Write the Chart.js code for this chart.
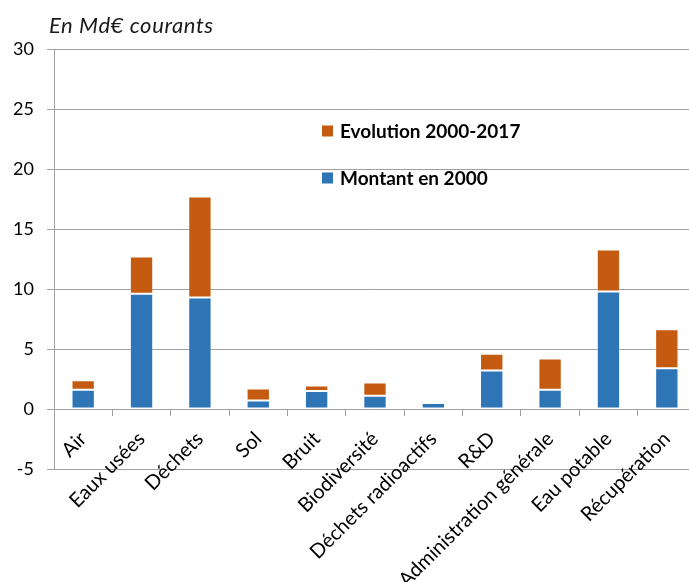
<!DOCTYPE html>
<html>
<head>
<meta charset="utf-8">
<script src="https://cdn.jsdelivr.net/npm/chart.js@4"></script>
<style>
  html, body { margin: 0; padding: 0; overflow: hidden; background: #ffffff; }
  #wrap { position: absolute; left: 0; top: 0; width: 700px; height: 582px; }
</style>
</head>
<body>
<div id="wrap"><canvas id="c" width="700" height="582"></canvas></div>
<script>
// Dépenses par domaine, en milliards d'euros courants
const categories = ['Air', 'Eaux usées', 'Déchets', 'Sol', 'Bruit', 'Biodiversité',
  'Déchets radioactifs', 'R&D', 'Administration générale', 'Eau potable', 'Récupération'];
const montant2000 = [1.6, 9.6, 9.3, 0.7, 1.5, 1.1, 0.5, 3.2, 1.6, 9.8, 3.4];
const evolution2000_2017 = [0.8, 3.1, 8.4, 1.0, 0.45, 1.1, 0.15, 1.4, 2.6, 3.5, 3.25];
const yTicks = [-5, 0, 5, 10, 15, 20, 25, 30];
const seriesNames = ['Montant en 2000', 'Evolution 2000-2017'];
const unitLabel = 'En Md€ courants';

const BLUE = '#2E75B6';
const ORANGE = '#C55A11';
const GRID = '#A0A0A0';
const FONT = 'Lato, "Noto Sans", sans-serif';

// Unit caption above the plot
const unitCaption = {
  id: 'unitCaption',
  afterDraw(chart, args, opts) {
    const ctx = chart.ctx;
    ctx.save();
    ctx.font = opts.font;
    if ('letterSpacing' in ctx) ctx.letterSpacing = opts.spacing;
    ctx.fillStyle = opts.color;
    ctx.textAlign = 'left';
    ctx.textBaseline = 'alphabetic';
    ctx.fillText(opts.text, opts.x, opts.y);
    ctx.restore();
  }
};

// Legend drawn inside the plot area, top series first
const innerLegend = {
  id: 'innerLegend',
  afterDatasetsDraw(chart, args, opts) {
    const ctx = chart.ctx;
    const items = chart.data.datasets.slice().reverse();
    ctx.save();
    ctx.font = opts.font;
    ctx.textAlign = 'left';
    ctx.textBaseline = 'middle';
    items.forEach((ds, i) => {
      const cy = opts.y + i * opts.rowGap;
      ctx.fillStyle = ds.backgroundColor;
      ctx.fillRect(opts.x, cy - opts.box / 2, opts.box, opts.box);
      ctx.fillStyle = '#000000';
      ctx.fillText(ds.label, opts.x + opts.box + opts.gap, cy + 1);
    });
    ctx.restore();
  }
};

new Chart(document.getElementById('c'), {
  type: 'bar',
  data: {
    labels: categories,
    datasets: [
      {
        label: seriesNames[0],
        data: montant2000,
        backgroundColor: BLUE,
        borderColor: 'rgba(255,255,255,0.3)',
        borderWidth: 1,
        borderSkipped: false,
        categoryPercentage: 1,
        barPercentage: 0.4
      },
      {
        label: seriesNames[1],
        data: evolution2000_2017,
        backgroundColor: ORANGE,
        borderColor: 'rgba(255,255,255,0.3)',
        borderWidth: 1,
        borderSkipped: false,
        categoryPercentage: 1,
        barPercentage: 0.4
      }
    ]
  },
  options: {
    responsive: false,
    animation: false,
    layout: { padding: { top: 49, right: 4, left: 0, bottom: 113 } },
    plugins: {
      legend: { display: false },
      tooltip: { enabled: false },
      unitCaption: { text: unitLabel, x: 49, y: 33, font: 'italic 22px ' + FONT, spacing: '0.6px', color: '#1a1a1a' },
      innerLegend: { x: 322, y: 131, rowGap: 47, box: 11, gap: 7, font: 'bold 19px ' + FONT }
    },
    scales: {
      x: {
        stacked: true,
        position: { y: 0 },
        offset: true,
        grid: { display: true, drawOnChartArea: false, drawTicks: true, tickLength: 6, color: GRID },
        border: { display: true, color: GRID, width: 1 },
        ticks: {
          autoSkip: false,
          maxRotation: 45,
          minRotation: 45,
          padding: 12,
          color: '#000000',
          font: { family: FONT, size: 20 }
        },
        afterFit(scale) { scale.height = 0; }
      },
      y: {
        stacked: true,
        min: -5,
        max: 30,
        afterBuildTicks(scale) { scale.ticks = yTicks.map(v => ({ value: v })); },
        grid: { color: GRID, lineWidth: 1, drawTicks: true, tickLength: 7 },
        border: { display: true, color: GRID, width: 1 },
        ticks: {
          padding: 13,
          color: '#000000',
          font: { family: FONT, size: 18 }
        },
        afterFit(scale) { scale.width = 54; }
      }
    }
  },
  plugins: [unitCaption, innerLegend]
});
</script>
</body>
</html>
